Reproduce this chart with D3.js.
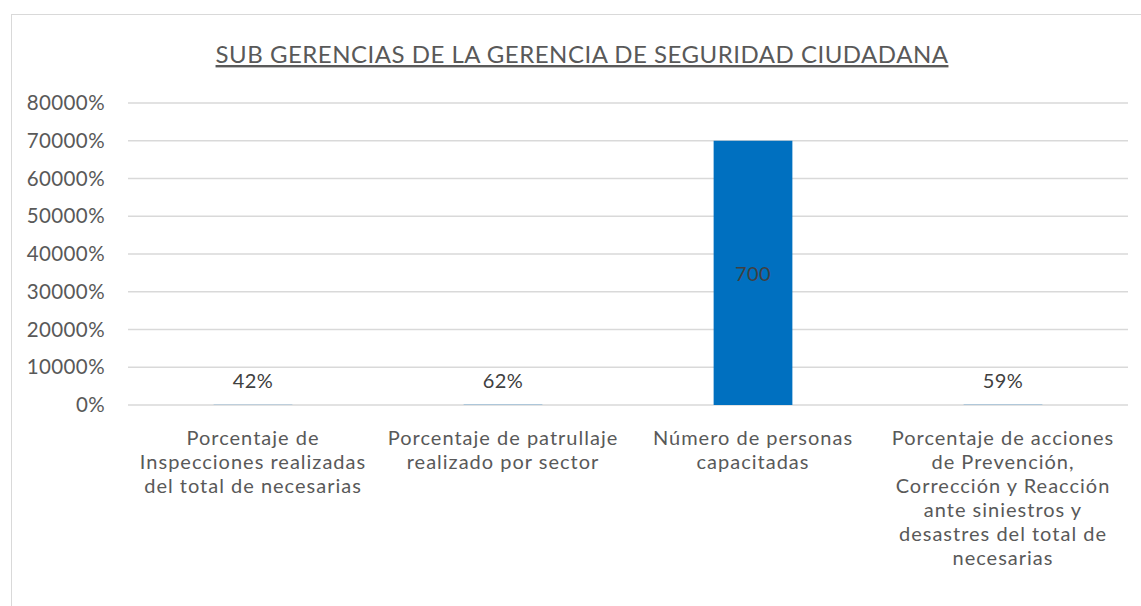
<!DOCTYPE html>
<html>
<head>
<meta charset="utf-8">
<script src="https://cdn.jsdelivr.net/npm/d3@7"></script>
<style>
  body { margin: 0; background: #fff; }
  svg text { font-family: Lato, "Open Sans", sans-serif; }
</style>
</head>
<body>
<div id="chart"></div>
<script>
// chart values
var categories = [
  ["Porcentaje de", "Inspecciones realizadas", "del total de necesarias"],
  ["Porcentaje de patrullaje", "realizado por sector"],
  ["Número de personas", "capacitadas"],
  ["Porcentaje de acciones", "de Prevención,", "Corrección y Reacción", "ante siniestros y", "desastres del total de", "necesarias"]
];
var values = [0.42, 0.62, 700, 0.59];
var valueLabels = ["42%", "62%", "700", "59%"];
var yTicks = [0, 100, 200, 300, 400, 500, 600, 700, 800];
var title = "SUB GERENCIAS DE LA GERENCIA DE SEGURIDAD CIUDADANA";

var W = 1141, H = 606;
var margin = {top: 103, right: 13, bottom: 201, left: 128};
var width = W - margin.left - margin.right;
var height = H - margin.top - margin.bottom;

var svg = d3.select("#chart").append("svg")
  .attr("width", W)
  .attr("height", H);

// chart border
svg.append("rect")
  .attr("x", 11.5).attr("y", 14.5)
  .attr("width", 1150).attr("height", 620)
  .attr("fill", "none")
  .attr("stroke", "#d9d9d9");

// title
svg.append("text")
  .attr("x", 582).attr("y", 63)
  .attr("text-anchor", "middle")
  .attr("fill", "#595959")
  .style("font-size", "24px")
  .style("letter-spacing", "0.5px")
  .style("text-decoration", "underline")
  .text(title);

var g = svg.append("g")
  .attr("transform", "translate(" + margin.left + "," + margin.top + ")");

var x = d3.scaleBand()
  .domain(d3.range(categories.length))
  .range([0, width])
  .paddingInner(0.685)
  .paddingOuter(0.3425);

var y = d3.scaleLinear().domain([0, 800]).range([height, 0]);

// gridlines
g.append("g")
  .selectAll("line")
  .data(yTicks)
  .join("line")
  .attr("x1", 0).attr("x2", width)
  .attr("y1", function(d) { return y(d); })
  .attr("y2", function(d) { return y(d); })
  .attr("stroke", "#d9d9d9")
  .attr("stroke-width", 1.5);

// y axis labels
var yAxis = g.append("g")
  .call(d3.axisLeft(y).tickValues(yTicks).tickFormat(d3.format(".0%")).tickSize(0).tickPadding(23));
yAxis.select(".domain").remove();
yAxis.selectAll("text")
  .attr("fill", "#595959")
  .style("font-size", "20.5px")
  .style("letter-spacing", "0.4px")
  .style("font-family", "Lato, sans-serif");

// bars
g.append("g")
  .selectAll("rect")
  .data(values)
  .join("rect")
  .attr("x", function(d, i) { return x(i); })
  .attr("y", function(d) { return y(d); })
  .attr("width", x.bandwidth())
  .attr("height", function(d) { return height - y(d); })
  .attr("fill", "#0070c0");

// data labels
g.append("g")
  .selectAll("text")
  .data(values)
  .join("text")
  .attr("x", function(d, i) { return x(i) + x.bandwidth() / 2; })
  .attr("y", function(d) {
    return d > 100 ? y(d / 2) + 8 : y(d) - 17;
  })
  .attr("text-anchor", "middle")
  .attr("fill", "#404040")
  .style("font-size", "20px")
  .style("letter-spacing", "0.4px")
  .text(function(d, i) { return valueLabels[i]; });

// category labels
var cat = g.append("g")
  .selectAll("text")
  .data(categories)
  .join("text")
  .attr("text-anchor", "middle")
  .attr("fill", "#595959")
  .style("font-size", "20px")
  .style("letter-spacing", "1px")
  .attr("transform", function(d, i) {
    return "translate(" + (x(i) + x.bandwidth() / 2) + "," + (height + 40) + ")";
  });
cat.selectAll("tspan")
  .data(function(d) { return d; })
  .join("tspan")
  .attr("x", 0)
  .attr("dy", function(d, i) { return i === 0 ? 0 : 24; })
  .text(function(d) { return d; });
</script>
</body>
</html>
